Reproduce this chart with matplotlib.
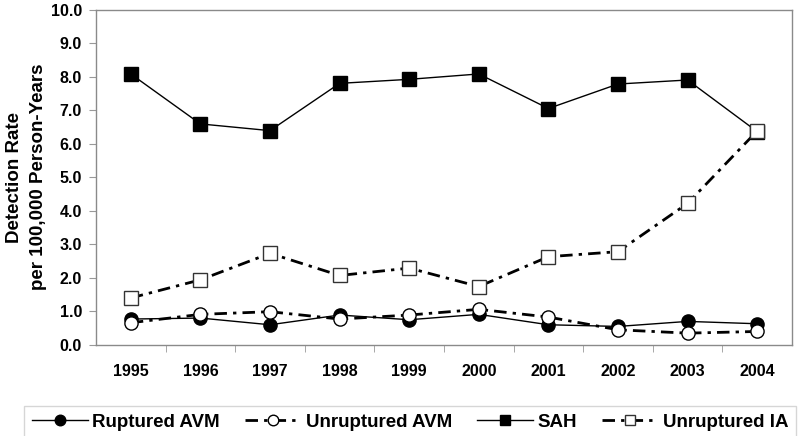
import matplotlib
matplotlib.use("Agg")
import matplotlib.pyplot as plt
from matplotlib.ticker import FixedLocator, FormatStrFormatter

years = ["1995", "1996", "1997", "1998", "1999", "2000", "2001", "2002", "2003", "2004"]
ruptured_avm = [0.77, 0.80, 0.60, 0.89, 0.75, 0.91, 0.60, 0.55, 0.70, 0.63]
unruptured_avm = [0.66, 0.91, 0.99, 0.77, 0.89, 1.06, 0.83, 0.45, 0.35, 0.40]
sah = [8.08, 6.59, 6.39, 7.80, 7.92, 8.08, 7.05, 7.78, 7.90, 6.36]
unruptured_ia = [1.40, 1.94, 2.73, 2.07, 2.29, 1.74, 2.63, 2.78, 4.22, 6.38]
series_names = ["Ruptured AVM", "Unruptured AVM", "SAH", "Unruptured IA"]

plt.rcParams['font.family'] = ['Liberation Sans', 'DejaVu Sans']

fig = plt.figure(figsize=(8, 4.36), dpi=100)
ax = fig.add_axes([0.12, 0.209, 0.87, 0.769])

x = list(range(len(years)))
dd = (0, (4.5, 2.2, 1.2, 2.2))

h1, = ax.plot(x, ruptured_avm, color='black', lw=1.0, marker='o', ms=9.5,
              mfc='black', mec='black', label=series_names[0], zorder=3)
h2, = ax.plot(x, unruptured_avm, color='black', lw=2.0, ls=dd, marker='o', ms=9.5,
              mfc='white', mec='black', mew=1.0, label=series_names[1], zorder=4)
h3, = ax.plot(x, sah, color='black', lw=1.0, marker='s', ms=9.5,
              mfc='black', mec='black', label=series_names[2], zorder=3)
h4, = ax.plot(x, unruptured_ia, color='black', lw=2.0, ls=dd, marker='s', ms=9.5,
              mfc='white', mec='#333333', mew=1.0, label=series_names[3], zorder=4)

ax.set_xlim(-0.5, len(years) - 0.5)
ax.set_ylim(0, 10)
ax.yaxis.set_major_locator(FixedLocator([i for i in range(11)]))
ax.yaxis.set_major_formatter(FormatStrFormatter('%.1f'))
ax.set_xticks(x)
ax.set_xticklabels(years)
ax.xaxis.set_minor_locator(FixedLocator([i + 0.5 for i in range(len(years) - 1)]))
ax.tick_params(axis='x', which='major', length=0, pad=14)
ax.tick_params(axis='x', which='minor', length=5, color='#999999', direction='out')
ax.tick_params(axis='y', length=5, color='#999999', direction='out', pad=5)
for lab in ax.get_xticklabels() + ax.get_yticklabels():
    lab.set_fontweight('bold')
    lab.set_fontsize(11.5)
for sp in ax.spines.values():
    sp.set_color('#8a8a8a')
    sp.set_linewidth(1.0)

ax.set_ylabel("Detection Rate\nper 100,000 Person-Years", fontsize=13.5,
              fontweight='bold', linespacing=1.5, labelpad=3)

leg = fig.legend(handles=[h1, h2, h3, h4], loc='lower left',
                 bbox_to_anchor=(0.03, -0.005, 0.965, 0.093), mode='expand',
                 ncol=4, frameon=True, fancybox=False, handlelength=3.0,
                 handletextpad=0.25, columnspacing=1.5, borderaxespad=0,
                 markerscale=0.8,
                 prop={'weight': 'bold', 'size': 13.5})
leg.get_frame().set_edgecolor('#cccccc')
leg.get_frame().set_linewidth(1.0)

fig.savefig("out.png", dpi=100)
